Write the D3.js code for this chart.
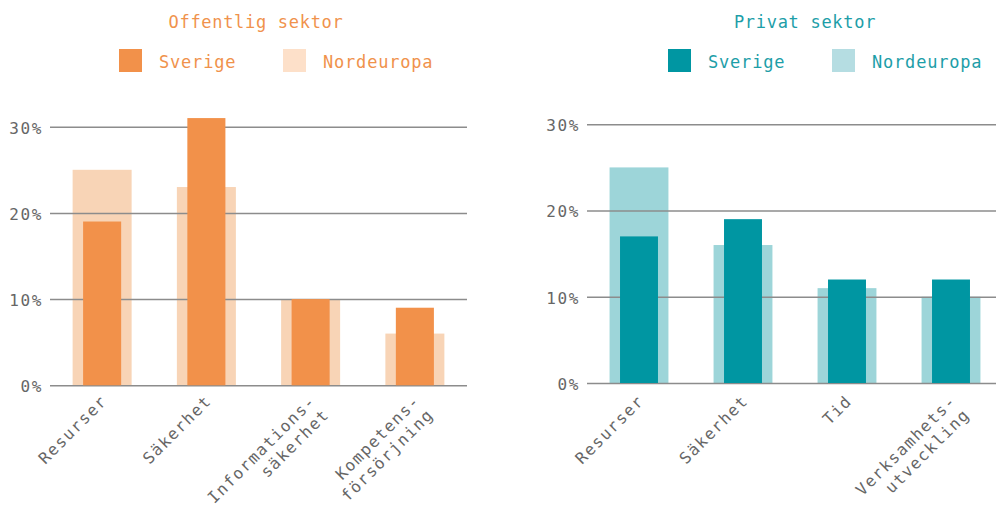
<!DOCTYPE html>
<html>
<head>
<meta charset="utf-8">
<script src="https://cdn.jsdelivr.net/npm/d3@7"></script>
<style>
  body { margin: 0; background: #fff; }
  svg { display: block; }
  text { font-family: "DejaVu Sans Mono", "Liberation Mono", monospace; }
</style>
</head>
<body>
<script>
//chart data
var offCategories = ["Resurser", "Säkerhet", "Informations-\nsäkerhet", "Kompetens-\nförsörjning"];
var offSverige = [19, 31, 10, 9];
var offNordeuropa = [25, 23, 10, 6];

var privCategories = ["Resurser", "Säkerhet", "Tid", "Verksamhets-\nutveckling"];
var privSverige = [17, 19, 12, 12];
var privNordeuropa = [25, 16, 11, 10];

var yTicks = [0, 10, 20, 30];
var seriesNames = ["Sverige", "Nordeuropa"];

var width = 996, height = 508;

var svg = d3.select("body").append("svg")
  .attr("width", width)
  .attr("height", height);

//one panel per sector
drawPanel({
  title: "Offentlig sektor",
  titleX: 256,
  categories: offCategories,
  sverige: offSverige,
  nordeuropa: offNordeuropa,
  x0: 50, x1: 467,
  gridEnd: 467,
  yTop: 126.7, yBottom: 385.3,
  legendX: [119, 283],
  dark: "#f2914a", light: "#f8d4b6", legendLight: "#fde0c9",
  textColor: "#f0924c"
});

drawPanel({
  title: "Privat sektor",
  titleX: 805,
  categories: privCategories,
  sverige: privSverige,
  nordeuropa: privNordeuropa,
  x0: 587, x1: 1003,
  gridEnd: 1000,
  yTop: 124.3, yBottom: 383,
  legendX: [668, 832],
  dark: "#0096a2", light: "#9dd5d9", legendLight: "#b5dde2",
  textColor: "#1d9ea8"
});

function drawPanel(cfg) {
  var g = svg.append("g");

  var x = d3.scaleBand()
    .domain(cfg.categories)
    .range([cfg.x0, cfg.x1])
    .padding(0);

  var y = d3.scaleLinear()
    .domain([0, 30])
    .range([cfg.yBottom, cfg.yTop]);

  var wideW = x.bandwidth() * 0.566,
      narrowW = x.bandwidth() * 0.365;

  //title
  g.append("text")
    .attr("x", cfg.titleX)
    .attr("y", 28)
    .attr("text-anchor", "middle")
    .attr("fill", cfg.textColor)
    .style("font-size", "17px")
    .style("letter-spacing", "0.7px")
    .text(cfg.title);

  //legend
  var legendColors = [cfg.dark, cfg.legendLight];
  var leg = g.selectAll(".legend")
    .data(seriesNames)
    .enter().append("g")
    .attr("transform", function(d, i){ return "translate(" + cfg.legendX[i] + ",49)"; });
  leg.append("rect")
    .attr("width", 23)
    .attr("height", 23)
    .attr("fill", function(d, i){ return legendColors[i]; });
  leg.append("text")
    .attr("x", 40)
    .attr("y", 19)
    .attr("fill", cfg.textColor)
    .style("font-size", "17px")
    .style("letter-spacing", "0.8px")
    .text(function(d){ return d; });

  //nordeuropa bars (behind gridlines)
  g.selectAll(".nord")
    .data(cfg.nordeuropa)
    .enter().append("rect")
    .attr("x", function(d, i){ return x(cfg.categories[i]) + (x.bandwidth() - wideW) / 2; })
    .attr("width", wideW)
    .attr("y", function(d){ return y(d); })
    .attr("height", function(d){ return y(0) - y(d); })
    .attr("fill", cfg.light);

  //gridlines + tick labels
  var yAxis = d3.axisLeft(y)
    .tickValues(yTicks)
    .tickSize(-(cfg.gridEnd - cfg.x0))
    .tickPadding(7)
    .tickFormat(function(d){ return d + "%"; });
  var ax = g.append("g")
    .attr("transform", "translate(" + cfg.x0 + ",0)")
    .call(yAxis);
  ax.select(".domain").remove();
  ax.selectAll(".tick line")
    .attr("stroke", "#8c8c8c")
    .attr("stroke-width", 1.5);
  ax.selectAll(".tick text")
    .attr("fill", "#666")
    .attr("dy", "0.4em")
    .style("font-size", "16px")
    .style("letter-spacing", "1.6px");

  //sverige bars (on top)
  g.selectAll(".sve")
    .data(cfg.sverige)
    .enter().append("rect")
    .attr("x", function(d, i){ return x(cfg.categories[i]) + (x.bandwidth() - narrowW) / 2; })
    .attr("width", narrowW)
    .attr("y", function(d){ return y(d); })
    .attr("height", function(d){ return y(0) - y(d); })
    .attr("fill", cfg.dark);

  //category labels, rotated
  var labels = g.selectAll(".cat")
    .data(cfg.categories)
    .enter().append("text")
    .attr("transform", function(d){
      return "translate(" + (x(d) + x.bandwidth() / 2 + 6) + "," + 402 + ") rotate(-45)";
    })
    .attr("text-anchor", "end")
    .attr("fill", "#666")
    .style("font-size", "16px")
    .style("letter-spacing", "1.5px");
  labels.each(function(d){
    var lines = d.split("\n");
    var t = d3.select(this);
    lines.forEach(function(line, i){
      t.append("tspan")
        .attr("x", 0)
        .attr("dy", i === 0 ? 0 : "1.2em")
        .text(line);
    });
  });
}
</script>
</body>
</html>
